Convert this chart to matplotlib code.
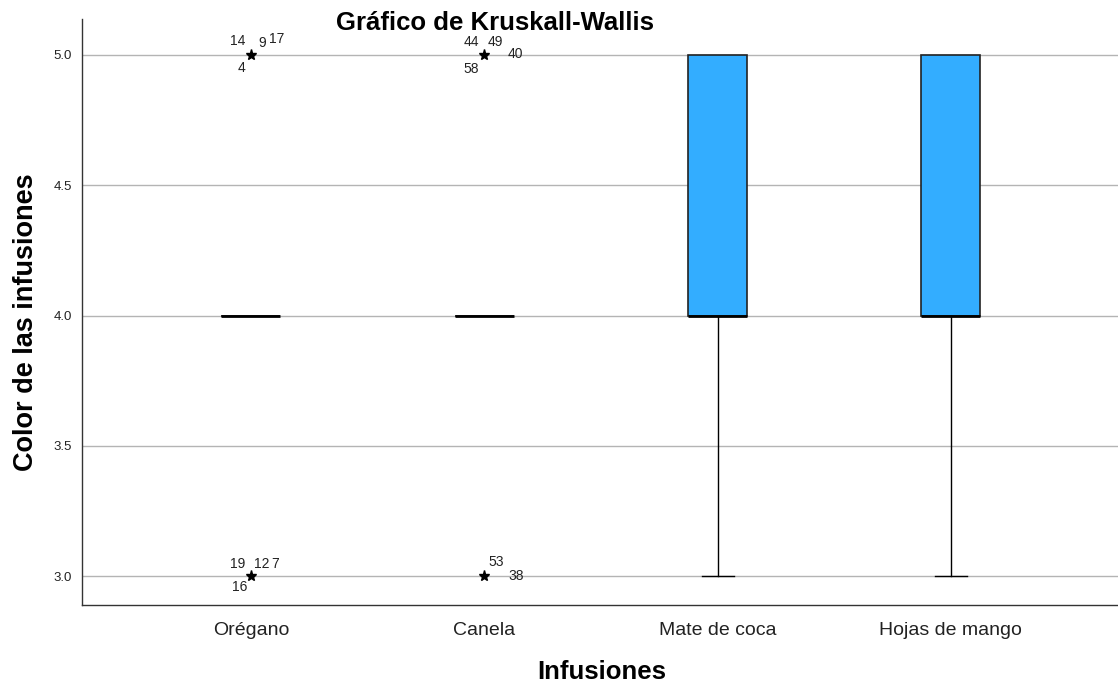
import matplotlib
matplotlib.use("Agg")
import matplotlib.pyplot as plt

plt.rcParams['font.family'] = ['Liberation Sans', 'DejaVu Sans']

categories = ["Orégano", "Canela", "Mate de coca", "Hojas de mango"]
q1 = [4.0, 4.0, 4.0, 4.0]
median = [4.0, 4.0, 4.0, 4.0]
q3 = [4.0, 4.0, 5.0, 5.0]
whislo = [4.0, 4.0, 3.0, 3.0]
whishi = [4.0, 4.0, 5.0, 5.0]

# outliers: (category index, value, case labels)
out_cat = [0, 0, 1, 1]
out_val = [5.0, 3.0, 5.0, 3.0]
out_labels = [["14", "9", "17", "4"], ["19", "12", "7", "16"],
              ["44", "49", "40", "58"], ["53", "38"]]
# label offsets (pixels) relative to the star
label_offsets = [[(-13, 14), (11, 12), (26, 16), (-9, -13)],
                 [(-13, 12), (11, 12), (24, 12), (-11, -11)],
                 [(-13, 13), (11, 13), (31, 1), (-13, -14)],
                 [(12, 14), (32, 0)]]

fig = plt.figure(figsize=(11.18, 6.89), dpi=100)
ax = fig.add_axes([82/1118, 84/689, 1 - 82/1118, (605-19)/689])

stats = []
for i in range(len(categories)):
    stats.append(dict(med=median[i], q1=q1[i], q3=q3[i], whislo=whislo[i],
                      whishi=whishi[i], fliers=[], label=categories[i]))

positions = list(range(len(categories)))
bp = ax.bxp(stats, positions=positions, widths=0.253, patch_artist=True,
            showfliers=False, manage_ticks=False,
            boxprops=dict(facecolor='#33adff', edgecolor='#222222', linewidth=1.2),
            medianprops=dict(color='black', linewidth=2),
            whiskerprops=dict(color='black', linewidth=1),
            capprops=dict(color='black', linewidth=1),
            capwidths=0.137)
for k, (lo, hi) in enumerate(zip(whislo, whishi)):
    if lo == hi:
        for c in bp['caps'][2*k:2*k+2]:
            c.set_visible(False)
        for w in bp['whiskers'][2*k:2*k+2]:
            w.set_visible(False)
    if hi == q3[k]:
        bp['caps'][2*k+1].set_visible(False)

for c, v, labs, offs in zip(out_cat, out_val, out_labels, label_offsets):
    ax.plot([positions[c]], [v], marker='*', color='black', markersize=8,
            linestyle='none', zorder=5)
    for lab, (dx, dy) in zip(labs, offs):
        ax.annotate(lab, (positions[c], v), xytext=(dx, dy),
                    textcoords='offset pixels', ha='center', va='center',
                    fontsize=10, color='#222222')

ax.set_xlim(-0.724, 3.716)
ax.set_ylim(2.889, 5.138)
ax.set_yticks([3.0, 3.5, 4.0, 4.5, 5.0])
ax.set_yticklabels(["3.0", "3.5", "4.0", "4.5", "5.0"], fontsize=9.5)
ax.set_xticks(positions)
ax.set_xticklabels(categories, fontsize=14)
ax.tick_params(axis='x', length=0, pad=12, colors='#222222')
ax.tick_params(axis='y', length=0, pad=7, colors='#222222')
ax.grid(axis='y', color='#b4b4b4', linewidth=1)
ax.set_axisbelow(True)
for s in ['top', 'right']:
    ax.spines[s].set_visible(False)
for s in ['left', 'bottom']:
    ax.spines[s].set_color('#333333')
    ax.spines[s].set_linewidth(1)

fig.text(26/1118, 1 - 322/689, "Color de las infusiones", rotation=90,
         ha='center', va='center', fontsize=19.5, fontweight='bold')
fig.text(602/1118, 1 - 672/689, "Infusiones", ha='center', va='center',
         fontsize=18.5, fontweight='bold')
fig.text(495/1118, 1 - 23/689, "Gráfico de Kruskall-Wallis", ha='center', va='center',
         fontsize=18.5, fontweight='bold')

fig.savefig("out.png", dpi=100)
